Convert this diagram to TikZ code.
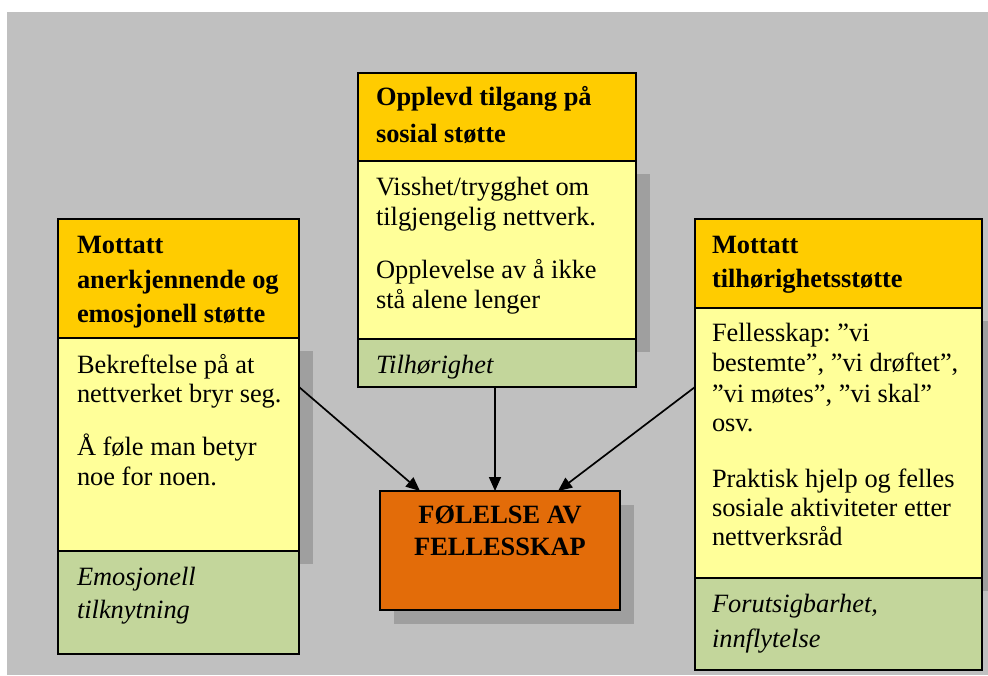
\documentclass[tikz,border=0pt]{standalone}
\usepackage{fontspec}
\setmainfont{Liberation Serif}
\usetikzlibrary{arrows.meta}

\definecolor{bggray}{HTML}{C0C0C0}
\definecolor{shadowgray}{HTML}{9F9F9F}
\definecolor{headgold}{HTML}{FFCC00}
\definecolor{bodyyellow}{HTML}{FFFF99}
\definecolor{footgreen}{HTML}{C3D69B}
\definecolor{coreorange}{HTML}{E36C09}

\tikzset{
  panel/.style={draw=black, line width=1.4pt, anchor=north west, inner sep=0pt, outer sep=0pt},
  shade/.style={fill=shadowgray, anchor=north west, inner sep=0pt, outer sep=0pt},
  txt/.style={anchor=base west, inner sep=0pt, outer sep=0pt, font=\fontsize{26.4}{30}\selectfont},
  hdr/.style={txt, font=\fontsize{26.4}{30}\selectfont\bfseries},
  note/.style={txt, font=\fontsize{26.4}{30}\selectfont\itshape},
  arr/.style={line width=1.7pt, -{Triangle[length=14pt,width=12pt]}}
}

\begin{document}
\frenchspacing
\begin{tikzpicture}[x=1pt, y=-1pt]
  % page frame and grey backdrop
  \useasboundingbox (0,0) rectangle (988,675);
  \fill[white] (0,0) rectangle (988,675);
  \fill[bggray] (7,12) rectangle (988,675);

  % drop shadows behind the yellow sections and the central box
  \node[shade, minimum width=241pt, minimum height=213pt] (lsh) at (72,351) {};
  \node[shade, minimum width=278pt, minimum height=178pt] (tsh) at (372,174) {};
  \node[shade, minimum width=279pt, minimum height=270pt] (rsh) at (709,321) {};
  \node[shade, minimum width=240pt, minimum height=119pt] (csh) at (394,505) {};

  % left column: received recognising and emotional support
  \node[panel, fill=headgold, minimum width=241pt, minimum height=119pt] (lhead) at (58,219) {};
  \node[panel, fill=bodyyellow, minimum width=241pt, minimum height=213pt] (lbody) at (58,338) {};
  \node[panel, fill=footgreen, minimum width=241pt, minimum height=103pt] (lfoot) at (58,551) {};

  % top column: perceived access to social support
  \node[panel, fill=headgold, minimum width=278pt, minimum height=88pt] (thead) at (358,73) {};
  \node[panel, fill=bodyyellow, minimum width=278pt, minimum height=178pt] (tbody) at (358,161) {};
  \node[panel, fill=footgreen, minimum width=278pt, minimum height=48pt] (tfoot) at (358,339) {};

  % right column: received belonging support
  \node[panel, fill=headgold, minimum width=287pt, minimum height=89pt] (rhead) at (695,219) {};
  \node[panel, fill=bodyyellow, minimum width=287pt, minimum height=270pt] (rbody) at (695,308) {};
  \node[panel, fill=footgreen, minimum width=287pt, minimum height=92pt] (rfoot) at (695,578) {};

  % central outcome box
  \node[panel, fill=coreorange, minimum width=240pt, minimum height=119pt] (core) at (380,491) {};

  % left column text
  \node[hdr] (lh1) at (77,253) {Mottatt};
  \node[hdr] (lh2) at (77,288) {anerkjennende og};
  \node[hdr] (lh3) at (77,322) {emosjonell støtte};
  \node[txt] (lb1) at (77,373) {Bekreftelse på at};
  \node[txt] (lb2) at (77,402) {nettverket bryr seg.};
  \node[txt] (lb3) at (77,455) {Å føle man betyr};
  \node[txt] (lb4) at (77,485) {noe for noen.};
  \node[note] (lf1) at (77,585) {Emosjonell};
  \node[note] (lf2) at (77,618) {tilknytning};

  % top column text
  \node[hdr] (th1) at (376,105) {Opplevd tilgang på};
  \node[hdr] (th2) at (376,142) {sosial støtte};
  \node[txt] (tb1) at (376,195) {Visshet/trygghet om};
  \node[txt] (tb2) at (376,225) {tilgjengelig nettverk.};
  \node[txt] (tb3) at (376,278) {Opplevelse av å ikke};
  \node[txt] (tb4) at (376,308) {stå alene lenger};
  \node[note] (tf1) at (376,373) {Tilhørighet};

  % right column text
  \node[hdr] (rh1) at (712,253) {Mottatt};
  \node[hdr] (rh2) at (712,287) {tilhørighetsstøtte};
  \node[txt] (rb1) at (712,341) {Fellesskap: ”vi};
  \node[txt] (rb2) at (712,371) {bestemte”, ”vi drøftet”,};
  \node[txt] (rb3) at (712,402) {”vi møtes”, ”vi skal”};
  \node[txt] (rb4) at (712,431) {osv.};
  \node[txt] (rb5) at (712,487) {Praktisk hjelp og felles};
  \node[txt] (rb6) at (712,516) {sosiale aktiviteter etter};
  \node[txt] (rb7) at (712,545) {nettverksråd};
  \node[note] (rf1) at (712,612) {Forutsigbarhet,};
  \node[note] (rf2) at (712,647) {innflytelse};

  % central text
  \node[hdr, anchor=base] (c1) at (500,523) {FØLELSE AV};
  \node[hdr, anchor=base] (c2) at (500,555) {FELLESSKAP};

  % connectors into the central box
  \coordinate (lin) at ([xshift=-80pt]core.north);
  \coordinate (tin) at ([xshift=-5pt]core.north);
  \coordinate (rin) at ([xshift=58pt]core.north);
  \draw[arr] (lbody.east |- tfoot.south) -- (lin);
  \draw[arr] (tfoot.south -| tin) -- (tin);
  \draw[arr] (rbody.west |- tfoot.south) -- (rin);
\end{tikzpicture}
\end{document}
